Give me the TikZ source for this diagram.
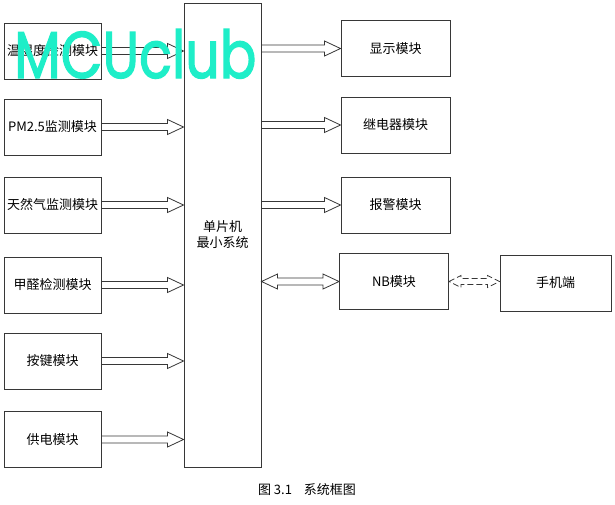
\documentclass[tikz,border=0pt]{standalone}
\usepackage{fontspec}
\newfontfamily\cjk{Noto Sans CJK SC}
\newfontfamily\wm[FakeBold=2]{Poppins}
\usetikzlibrary{calc}
\definecolor{lc}{RGB}{55,55,55}
\definecolor{wmc}{RGB}{30,238,200}
% right-pointing hollow arrow: #1 style, #2 start, #3 end
\newcommand\rarrow[3][]{\draw[arr,#1] let \p1=(#2), \p2=(#3) in
  (\x1,\y1+3.5pt) -- (\x2-16pt,\y1+3.5pt) -- (\x2-16pt,\y1+7.5pt) -- (\x2,\y1)
  -- (\x2-16pt,\y1-7.5pt) -- (\x2-16pt,\y1-3.5pt) -- (\x1,\y1-3.5pt);}
% double-headed hollow arrow: #1 style, #2 start, #3 end, #4 head length, #5 head half height, #6 shaft half width
\newcommand\darrow[6]{\draw[arr,#1] let \p1=(#2), \p2=(#3) in
  (\x1,\y1) -- (\x1+#4,\y1+#5) -- (\x1+#4,\y1+#6) -- (\x2-#4,\y1+#6) -- (\x2-#4,\y1+#5)
  -- (\x2,\y1) -- (\x2-#4,\y1-#5) -- (\x2-#4,\y1-#6) -- (\x1+#4,\y1-#6) -- (\x1+#4,\y1-#5) -- cycle;}
\begin{document}
\begin{tikzpicture}[x=1pt,y=-1pt,
  txt/.style={font=\cjk\fontsize{13}{16}\selectfont},
  box/.style={draw=lc, line width=1pt, txt, inner sep=0pt, align=center},
  lbox/.style={box, minimum width=97pt, minimum height=56pt},
  rbox/.style={box, minimum width=109pt, minimum height=56pt},
  arr/.style={draw=lc, line width=0.8pt},
]
\useasboundingbox[fill=white] (0,0) rectangle (615,504);
% left modules
\node[lbox] (l1) at (52.5,51) {温湿度检测模块};
\node[lbox] (l2) at (52.5,127) {PM2.5监测模块};
\node[lbox] (l3) at (52.5,205) {天然气监测模块};
\node[lbox] (l4) at (52.5,285) {甲醛检测模块};
\node[lbox] (l5) at (52.5,361) {按键模块};
\node[lbox] (l6) at (52.5,439.5) {供电模块};
% MCU
\node[box, minimum width=77pt, minimum height=464pt] (mcu) at (222.5,235) {单片机\\最小系统};
% right modules
\node[rbox] (r1) at (395.5,48.5) {显示模块};
\node[rbox] (r2) at (395.5,125) {继电器模块};
\node[rbox] (r3) at (395.5,205) {报警模块};
\node[rbox] (nb) at (394,281.5) {NB模块};
\node[box, minimum width=111pt, minimum height=56pt] (ph) at (555.5,283) {手机端};
% arrows into MCU
\foreach \m in {l1,l2,l3,l4,l5,l6}{\rarrow{\m.east}{mcu.west |- \m.east}}
% arrows out of MCU
\foreach \m in {r1,r2,r3}{\rarrow{mcu.east |- \m.west}{\m.west}}
% MCU <-> NB
\darrow{}{mcu.east |- nb.west}{nb.west}{16pt}{7.5pt}{3.5pt}
% NB <-> phone (wireless, dashed)
\darrow{dashed, dash pattern=on 6pt off 3pt}{nb.east}{ph.west |- nb.east}{12pt}{6pt}{3pt}
% caption
\node[txt] (cap) at (307,490) {图 3.1\hspace{12pt}系统框图};
% watermark
\node[font=\wm\fontsize{66}{66}\selectfont, text=wmc, anchor=base west, inner sep=0pt, xscale=0.82] (wmk) at (14,78) {MCUclub};
\end{tikzpicture}
\end{document}
